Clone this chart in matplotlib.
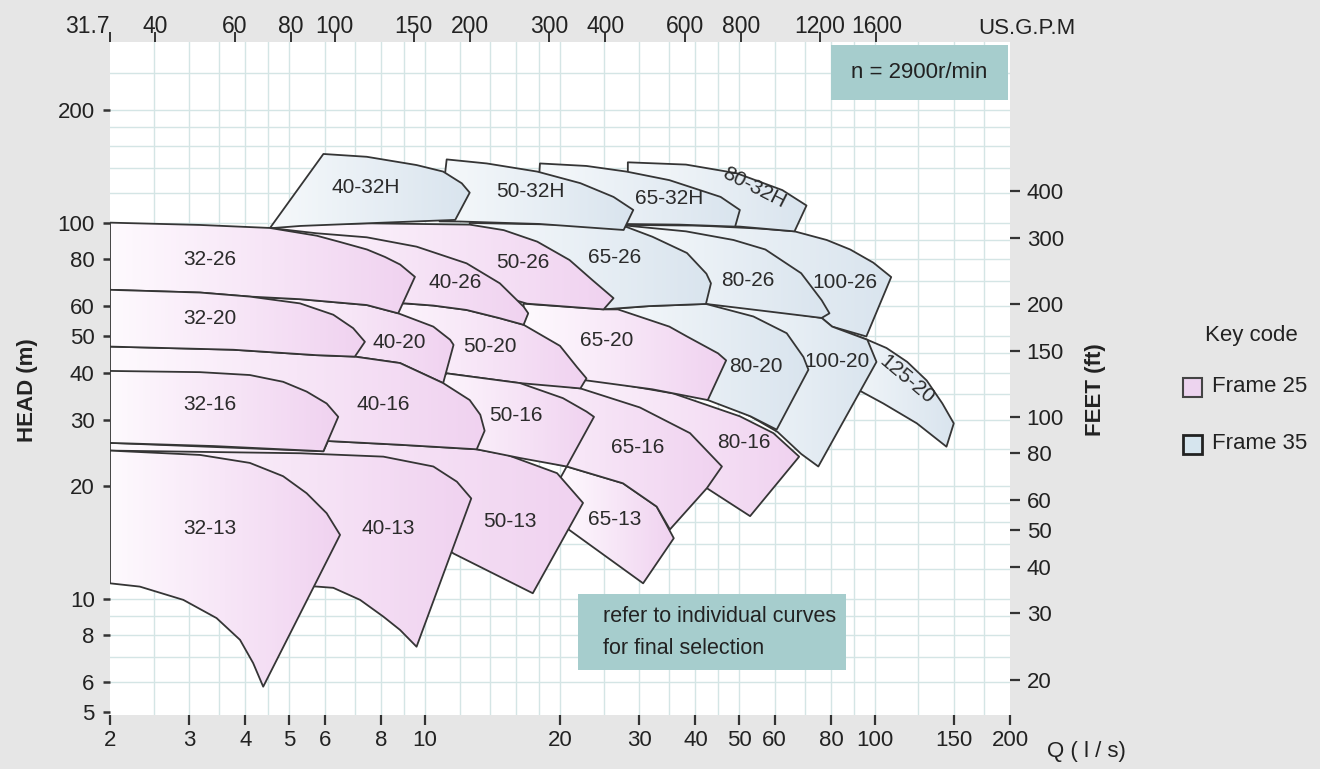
import numpy as np
import matplotlib
matplotlib.use('Agg')
import matplotlib.pyplot as plt
from matplotlib.patches import Polygon, Rectangle
from matplotlib.colors import LinearSegmentedColormap
from matplotlib.ticker import FixedLocator, FixedFormatter, NullLocator

plt.rcParams['font.family'] = ['Liberation Sans', 'DejaVu Sans']

W_PX, H_PX = 1320, 769

# axes
q_ticks = [2, 3, 4, 5, 6, 8, 10, 20, 30, 40, 50, 60, 80, 100, 150, 200]
h_ticks = [5, 6, 8, 10, 20, 30, 40, 50, 60, 80, 100, 200]
feet_ticks = [20, 30, 40, 50, 60, 80, 100, 150, 200, 300, 400]
gpm_ticks = [31.7, 40, 60, 80, 100, 150, 200, 300, 400, 600, 800, 1200, 1600]
q_grid = [2.5, 3, 3.5, 4, 4.5, 5, 6, 7, 8, 9, 10, 12, 14, 16, 18, 20, 25, 30, 35,
          40, 45, 50, 60, 70, 80, 90, 100, 125, 150, 175]
h_grid = [6, 7, 8, 9, 10, 12, 14, 16, 18, 20, 25, 30, 35, 40, 45, 50, 60, 70, 80,
          90, 100, 120, 140, 160, 180, 200, 250]

# pump envelopes as (Q l/s, H m); top = max impeller, bot = min impeller
p40_32H_top = [(5.96, 152.6), (7.44, 150), (9.6, 142.6), (11.0, 137), (12.1, 127.5), (12.6, 120.4)]
p40_32H_bot = [(4.53, 96.8), (5.3, 98.2), (7.44, 99.8), (11.7, 101.9)]
p50_32H_top = [(11.2, 147.6), (13.75, 144), (17.8, 137), (22.2, 127.6), (26.3, 117.3), (29.1, 108.3)]
p50_32H_bot = [(10.8, 101), (12, 100.9), (18, 99.4), (27.7, 95.8)]
p65_32H_top = [(18.05, 144), (22.9, 141.8), (28.1, 137), (35, 130), (45.5, 117.3), (50.2, 108.3)]
p65_32H_bot = [(17.7, 100), (27.3, 99.4), (36.8, 99), (49, 97.8)]
p80_32H_top = [(28.3, 145), (38.1, 143), (49.4, 135.6), (62.4, 122.3), (70.6, 111.3)]
p80_32H_bot = [(28.3, 99.4), (36.8, 99), (50.2, 97.8), (66.4, 95)]

p32_26_top = [(2, 100.2), (3.17, 98.8), (4.53, 97.0), (5.76, 92.5), (6.49, 89.0), (7.45, 85),
              (8.17, 81.2), (8.83, 77.5), (9.52, 71.9)]
p32_26_bot = [(2, 66.4), (3.17, 65.3), (4.09, 63.7), (5.29, 62.7), (7.44, 60.5), (8.74, 57.5)]
p40_26_top = [(4.53, 97.0), (5.75, 93.9), (7.44, 91.6), (9.6, 86.5), (12.4, 78.1), (14.7, 69.1),
              (16.6, 59.9), (17.0, 57.5)]
p40_26_bot = [(4.53, 64.5), (6.8, 61.3), (9.05, 61.1), (10.46, 60.3), (12.4, 58.7), (14.7, 55.8), (16.6, 53.6)]
p50_26_top = [(4.53, 97), (5.3, 99), (7.45, 99.8), (12.6, 99), (15.0, 95.7), (17.8, 89.2), (21.0, 79.7),
              (23.6, 70.5), (26.3, 63.1)]
p50_26_bot = [(4.53, 80), (8.83, 75), (12.4, 68), (16.9, 61), (25.0, 58.9)]
p65_26_top = [(12.6, 100), (20, 99), (28.1, 97.6), (32.1, 91.9), (38.3, 83.2), (42.3, 73.3), (43.3, 69.1)]
p65_26_bot = [(12.6, 78.9), (20, 66.4), (25.0, 58.9), (31.5, 60.1), (42.2, 60.9)]
p80_26_top = [(28.1, 98.4), (38.1, 95), (48.6, 90.1), (57.2, 85), (68.7, 73.5), (76.3, 62.3), (79.4, 57.5)]
p80_26_bot = [(28.1, 66.4), (42.2, 60.9), (55.8, 58.5), (76.3, 55.9)]
p100_26_top = [(28.2, 98.8), (40.9, 98.4), (55.8, 96.6), (66.4, 95), (78.3, 90.1), (88.3, 85),
               (99.4, 78.4), (108.9, 71.8)]
p100_26_bot = [(28.2, 67.8), (40.9, 64.1), (57.2, 58.8), (76.3, 55.9), (80.5, 53.0), (95.9, 49.9)]

p32_20_top = [(2, 66.4), (3.17, 65.3), (4.09, 63.7), (5.29, 61.1), (6.27, 57.0), (6.94, 52.5), (7.37, 48.3)]
p32_20_bot = [(2, 46.9), (3.76, 46.0), (5.75, 44.5), (7.0, 44.1)]
p40_20_top = [(4.09, 63.7), (5.29, 62.7), (7.44, 60.5), (8.74, 57.5), (10.46, 53.0), (11.4, 48.9), (11.6, 47.4)]
p40_20_bot = [(4.09, 46), (7.0, 44.1), (8.82, 42.4), (11.0, 37.5)]
p50_20_top = [(7.44, 60.8), (9.05, 61.1), (10.46, 60.3), (12.4, 58.7), (14.7, 55.8), (16.6, 53.6),
              (20, 47.1), (21.8, 41.4), (22.9, 38.6)]
p50_20_bot = [(7.44, 48.8), (8.82, 44.5), (11.2, 39.8), (16.3, 37.5), (22.2, 36.3)]
p65_20_top = [(16.6, 61), (25.0, 58.9), (26.9, 58.9), (35.0, 53.0), (38.3, 49.9), (44.9, 45.0), (46.8, 43.1)]
p65_20_bot = [(16.6, 44.5), (22.6, 38.2), (32.1, 36.1), (42.6, 33.8)]
p80_20_top = [(25.0, 58.9), (31.6, 60.1), (42.2, 60.9), (53.8, 56.4), (63.8, 50.9), (69.5, 44.0), (71.3, 40.7)]
p80_20_bot = [(25.0, 52.0), (33.5, 43.2), (42.6, 33.8), (53.0, 30.6), (60.6, 28.2)]
p100_20_top = [(42.2, 60.9), (57.2, 58.8), (76.3, 55.9), (80.5, 53.0), (96.4, 48.9), (101, 42.7)]
p100_20_bot = [(42.2, 34.9), (53.0, 30.6), (60.9, 27.8), (68.7, 24.3), (75, 22.5)]
p125_20_top = [(80.5, 53.0), (96.4, 48.9), (106.3, 46.5), (118.2, 42.7), (130.6, 38.1), (141.5, 33.1), (150, 29.3)]
p125_20_bot = [(83.4, 38.3), (93.5, 35.6), (104.6, 33.1), (124.2, 29.3), (144.5, 25.4)]

p32_16_top = [(2, 40.4), (3.17, 40.1), (4.09, 39.4), (4.85, 37.8), (5.47, 35.6), (6.06, 33.1), (6.43, 30.5)]
p32_16_bot = [(2, 26.0), (3.4, 25.5), (5.96, 24.7)]
p40_16_top = [(2, 46.9), (3.76, 46.0), (5.75, 44.5), (7.0, 44.1), (8.82, 42.4), (11.0, 37.5), (12.6, 33.8),
              (13.3, 30.9), (13.6, 28.0)]
p40_16_bot = [(2, 26.5), (6.1, 26.3), (8.83, 25.7), (13.06, 25.0)]
p50_16_top = [(11.2, 39.8), (16.3, 37.5), (20.3, 34.2), (22.9, 31.5), (23.8, 30.5)]
p50_16_bot = [(9.8, 33.8), (13.06, 25.0), (16.3, 23.7), (20.7, 22.5)]
p65_16_top = [(11.2, 39.8), (15.2, 38.4), (22.2, 36.3), (30.1, 32.3), (38.9, 27.6), (45.8, 22.5), (42.4, 19.7)]
p65_16_bot = [(11.2, 26.5), (20.7, 22.5), (27.6, 20.3), (32.8, 17.6), (35.1, 15.3)]
p80_16_top = [(16.4, 37.5), (22.9, 38.6), (35.7, 35.2), (50.2, 30.6), (59.6, 27.6), (68.0, 23.9)]
p80_16_bot = [(16.4, 33.0), (31.6, 24.9), (42.4, 19.7), (52.9, 16.6)]

p32_13_top = [(2, 24.8), (3.17, 24.15), (4.09, 23.0), (4.85, 21.2), (5.47, 19.1), (6.06, 16.9), (6.49, 14.8)]
p32_13_bot = [(2, 11.0), (2.33, 10.78), (2.91, 9.94), (3.45, 8.89), (3.89, 7.78), (4.16, 6.75), (4.38, 5.84)]
p40_13_top = [(2, 24.8), (5.3, 24.4), (8.1, 23.9), (10.46, 22.5), (11.8, 20.5), (12.7, 18.5)]
p40_13_bot = [(2, 14), (3.17, 12.7), (5.66, 10.8), (6.27, 10.7), (7.19, 9.94), (8.1, 8.97), (8.82, 8.27), (9.6, 7.46)]
p50_13_top = [(2, 26.0), (5.96, 24.7), (6.1, 26.3), (8.83, 25.7), (13.06, 25.0), (15.2, 24.2), (19.7, 21.6), (22.5, 18.0)]
p50_13_bot = [(2, 18.3), (8.1, 18.3), (11.6, 13.2), (17.4, 10.35)]
p65_13_top = [(20.7, 22.5), (27.6, 20.3), (32.8, 17.6), (35.8, 14.5)]
p65_13_bot = [(20.05, 21.0), (20.9, 15.3), (30.6, 11.0)]

# back to front: smaller pumps cover the start of larger ones
pumps = [
    ('125-20', 35, p125_20_top, p125_20_bot),
    ('100-26', 35, p100_26_top, p100_26_bot),
    ('100-20', 35, p100_20_top, p100_20_bot),
    ('80-32H', 35, p80_32H_top, p80_32H_bot),
    ('80-26', 35, p80_26_top, p80_26_bot),
    ('80-20', 35, p80_20_top, p80_20_bot),
    ('80-16', 25, p80_16_top, p80_16_bot),
    ('65-32H', 35, p65_32H_top, p65_32H_bot),
    ('65-26', 35, p65_26_top, p65_26_bot),
    ('65-20', 25, p65_20_top, p65_20_bot),
    ('65-13', 25, p65_13_top, p65_13_bot),
    ('65-16', 25, p65_16_top, p65_16_bot),
    ('50-32H', 35, p50_32H_top, p50_32H_bot),
    ('50-26', 25, p50_26_top, p50_26_bot),
    ('50-20', 25, p50_20_top, p50_20_bot),
    ('50-13', 25, p50_13_top, p50_13_bot),
    ('50-16', 25, p50_16_top, p50_16_bot),
    ('40-32H', 35, p40_32H_top, p40_32H_bot),
    ('40-26', 25, p40_26_top, p40_26_bot),
    ('40-20', 25, p40_20_top, p40_20_bot),
    ('40-13', 25, p40_13_top, p40_13_bot),
    ('40-16', 25, p40_16_top, p40_16_bot),
    ('32-26', 25, p32_26_top, p32_26_bot),
    ('32-20', 25, p32_20_top, p32_20_bot),
    ('32-13', 25, p32_13_top, p32_13_bot),
    ('32-16', 25, p32_16_top, p32_16_bot),
]

label_at = {
    '40-32H': (7.4, 124.5), '50-32H': (17.2, 121), '65-32H': (35, 116), '80-32H': (54, 124),
    '32-26': (3.34, 80), '40-26': (11.7, 69.6), '50-26': (16.55, 78.3), '65-26': (26.4, 81),
    '80-26': (52.3, 70.5), '100-26': (85.8, 69.6),
    '32-20': (3.34, 55.8), '40-20': (8.8, 48), '50-20': (14, 47), '65-20': (25.4, 48.8),
    '80-20': (54.6, 41.6), '100-20': (82.7, 42.7), '125-20': (118, 38.2),
    '32-16': (3.34, 32.8), '40-16': (8.1, 32.8), '50-16': (16.0, 30.8), '65-16': (29.7, 25.3),
    '80-16': (51.2, 26.0),
    '32-13': (3.34, 15.4), '40-13': (8.3, 15.4), '50-13': (15.5, 16.1), '65-13': (26.5, 16.3),
}
label_rot = {'80-32H': -27, '125-20': -40}

frame_colors = {25: ('#fefafe', '#f0d2f0'), 35: ('#f6f9fb', '#d9e4ee')}


def fx(px):
    return px / W_PX


def fy(py):
    return 1 - py / H_PX


fig = plt.figure(figsize=(W_PX / 100, H_PX / 100), dpi=100, facecolor='#e6e6e6')
ax = fig.add_axes([fx(110), fy(715), 900 / W_PX, (715 - 42) / H_PX])
ax.set_facecolor('white')
ax.set_xscale('log')
ax.set_yscale('log')
ax.set_xlim(2, 200)
ax.set_ylim(4.91, 303)

for q in q_grid:
    ax.axvline(q, color='#d4e5e5', lw=1, zorder=1)
for h in h_grid:
    ax.axhline(h, color='#d4e5e5', lw=1, zorder=1)

trans = ax.transData + ax.transAxes.inverted()
grad = np.linspace(0, 1, 256).reshape(1, -1)
cmaps = {k: LinearSegmentedColormap.from_list('f%d' % k, v) for k, v in frame_colors.items()}

for i, (name, frame, top, bot) in enumerate(pumps):
    pts = np.array(top + bot[::-1], dtype=float)
    z = 2 + 2 * i
    poly = Polygon(pts, closed=True, facecolor='none', edgecolor='#353535',
                   lw=1.3, zorder=z + 1, joinstyle='round')
    ax.add_patch(poly)
    a = trans.transform(pts)
    im = ax.imshow(grad, cmap=cmaps[frame], aspect='auto', interpolation='bilinear',
                   extent=(a[:, 0].min(), a[:, 0].max(), a[:, 1].min(), a[:, 1].max()),
                   transform=ax.transAxes, zorder=z)
    im.set_clip_path(poly)

for name, (q, h) in label_at.items():
    ax.text(q, h, name, ha='center', va='center', fontsize=15, color='#2b2b2b',
            rotation=label_rot.get(name, 0), zorder=90)

ax.set_xlim(2, 200)
ax.set_ylim(4.91, 303)

# boxes
ax.add_patch(Rectangle((fx(831), fy(100)), fx(1008) - fx(831), fy(45) - fy(100),
                       transform=fig.transFigure, facecolor='#a6cdcd', edgecolor='none', zorder=80))
ax.text(fx(919), fy(73), 'n = 2900r/min', transform=fig.transFigure, ha='center', va='center',
        fontsize=16, color='#222222', zorder=81)
ax.add_patch(Rectangle((fx(578), fy(670)), fx(846) - fx(578), fy(594) - fy(670),
                       transform=fig.transFigure, facecolor='#a6cdcd', edgecolor='none', zorder=80))
ax.text(fx(603), fy(616), 'refer to individual curves', transform=fig.transFigure,
        ha='left', va='center', fontsize=15.5, color='#222222', zorder=81)
ax.text(fx(603), fy(649), 'for final selection', transform=fig.transFigure,
        ha='left', va='center', fontsize=15.5, color='#222222', zorder=81)

# bottom / left axes
ax.xaxis.set_major_locator(FixedLocator(q_ticks))
ax.xaxis.set_major_formatter(FixedFormatter([str(v) for v in q_ticks]))
ax.xaxis.set_minor_locator(NullLocator())
ax.yaxis.set_major_locator(FixedLocator(h_ticks))
ax.yaxis.set_major_formatter(FixedFormatter([str(v) for v in h_ticks]))
ax.yaxis.set_minor_locator(NullLocator())
ax.tick_params(axis='x', direction='out', length=7, width=1.6, pad=4, labelsize=16,
               color='#333333', labelcolor='#222222')
ax.tick_params(axis='y', direction='out', length=5, width=1.8, pad=6, labelsize=16,
               color='#333333', labelcolor='#222222')

# right axis in feet
ax2 = ax.twinx()
ax2.set_yscale('log')
ax2.set_ylim(4.91 / 0.3048, 303 / 0.3048)
ax2.yaxis.set_major_locator(FixedLocator(feet_ticks))
ax2.yaxis.set_major_formatter(FixedFormatter([str(v) for v in feet_ticks]))
ax2.yaxis.set_minor_locator(NullLocator())
ax2.tick_params(axis='y', direction='out', length=7, width=1.6, pad=5, labelsize=16,
                color='#333333', labelcolor='#222222')

# top axis in US gallons per minute
ax3 = ax.twiny()
ax3.set_xscale('log')
ax3.set_xlim(2 * 15.85, 200 * 15.85)
ax3.xaxis.set_major_locator(FixedLocator(gpm_ticks))
ax3.xaxis.set_major_formatter(FixedFormatter([str(v) for v in gpm_ticks]))
ax3.xaxis.set_minor_locator(NullLocator())
ax3.tick_params(axis='x', direction='out', length=7, width=1.4, pad=-4, labelsize=16.5,
                color='#333333', labelcolor='#222222')
ax3.get_xticklabels()[0].set_horizontalalignment('right')

for a in (ax, ax2, ax3):
    for s in a.spines.values():
        s.set_visible(False)

fig.text(fx(978), fy(28), 'US.G.P.M', ha='left', va='center', fontsize=16, color='#222222')
fig.text(fx(1047), fy(751), 'Q ( l / s)', ha='left', va='center', fontsize=16, color='#222222')
fig.text(fx(28), fy(390), 'HEAD (m)', rotation=90, ha='center', va='center',
         fontsize=16, fontweight='bold', color='#222222')
fig.text(fx(1095), fy(390), 'FEET (ft)', rotation=90, ha='center', va='center',
         fontsize=16, fontweight='bold', color='#222222')

# key
fig.text(fx(1251), fy(336), 'Key code', ha='center', va='center', fontsize=16, color='#222222')
fig.add_artist(Rectangle((fx(1183), fy(397)), fx(1202) - fx(1183), fy(378) - fy(397),
                         transform=fig.transFigure, facecolor='#edd4ef', edgecolor='#444444', lw=1.5))
fig.add_artist(Rectangle((fx(1183), fy(454)), fx(1202) - fx(1183), fy(435) - fy(454),
                         transform=fig.transFigure, facecolor='#d6e5ee', edgecolor='#222222', lw=2))
fig.text(fx(1212), fy(387), 'Frame 25', ha='left', va='center', fontsize=16, color='#222222')
fig.text(fx(1212), fy(444), 'Frame 35', ha='left', va='center', fontsize=16, color='#222222')

fig.savefig('out.png', dpi=100, facecolor=fig.get_facecolor())
